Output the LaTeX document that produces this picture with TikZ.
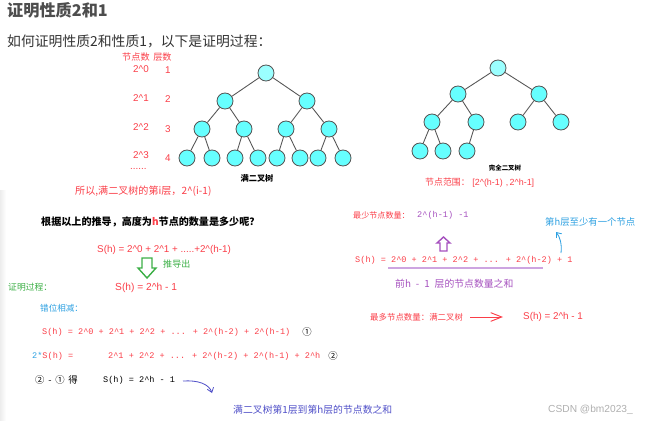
\documentclass[tikz,border=0pt]{standalone}
\usepackage{fontspec}
\setmainfont{Noto Sans CJK SC}
\newfontfamily\eqfont{Liberation Mono}
\newfontfamily\numfont{Liberation Sans}
\usetikzlibrary{arrows.meta,positioning}
\definecolor{PfRed}{RGB}{250,62,72}
\definecolor{PfPurple}{RGB}{165,80,190}
\definecolor{PfLilac}{RGB}{205,165,225}
\definecolor{PfGreen}{RGB}{60,175,70}
\definecolor{PfBlue}{RGB}{45,160,225}
\definecolor{PfNavy}{RGB}{80,80,200}
\definecolor{PfInk}{RGB}{77,77,77}
\definecolor{PfEdge}{RGB}{85,85,85}
\definecolor{PfCyan}{RGB}{102,255,255}
\definecolor{PfPaleCyan}{RGB}{155,255,255}
\definecolor{PfMark}{RGB}{175,175,175}
\newcommand{\pfsize}[1]{\fontsize{#1}{#1}\selectfont}
\newcommand{\pfcaret}{\textasciicircum}
\tikzset{
  pf/vertex/.style={
    circle,
    draw=PfEdge,
    line width=0.7pt,
    fill=PfCyan,
    minimum size=0.48cm,
    inner sep=0pt
  },
  pf/topvertex/.style={pf/vertex, fill=PfPaleCyan},
  pf/edge/.style={draw=PfEdge, line width=0.75pt},
  pf/text/.style={anchor=west, inner sep=0pt},
  pf/title/.style={pf/text, font=\pfsize{13.8pt}\bfseries, text=PfInk},
  pf/lead/.style={pf/text, font=\pfsize{11.8pt}, text=black!80},
  pf/red/.style={pf/text, font=\pfsize{7.8pt}, text=PfRed},
  pf/rednum/.style={pf/text, font=\numfont\pfsize{8.4pt}, text=PfRed},
  pf/redeq/.style={pf/text, font=\eqfont\pfsize{7.3pt}, text=PfRed},
  pf/caption/.style={font=\pfsize{7pt}\bfseries, text=black, inner sep=0pt},
  pf/question/.style={pf/text, font=\pfsize{8.6pt}\bfseries, text=black},
  pf/green/.style={pf/text, font=\pfsize{7.5pt}, text=PfGreen},
  pf/blue/.style={pf/text, font=\pfsize{8pt}, text=PfBlue},
  pf/purple/.style={pf/text, font=\pfsize{8.4pt}, text=PfPurple},
  pf/navy/.style={pf/text, font=\pfsize{8.4pt}, text=PfNavy},
  pf/circled/.style={font=\pfsize{8pt}, text=black, inner sep=0pt},
  pf/hollow/.style={line width=1.2pt, fill=white, line join=miter},
  pf/redarrow/.style={-{Straight Barb[length=3.3mm,width=2.6mm]}, draw=PfRed, line width=0.8pt},
  pf/bluearrow/.style={-{Straight Barb[length=1.3mm,width=2mm]}, draw=PfBlue, line width=0.7pt},
  pf/navyarrow/.style={-{Straight Barb[length=1.3mm,width=2mm]}, draw=PfNavy, line width=0.7pt}
}

\begin{document}
\begin{tikzpicture}[x=0.03cm,y=-0.03cm]
  \useasboundingbox (0,0) rectangle (645,421);
  \fill[left color=black!7, right color=white] (0,190) rectangle (6,421);

  % heading
  \node[pf/title] (title) at (7,10) {证明性质2和1};
  \node[pf/lead] (lead) at (7,41) {如何证明性质2和性质1，以下是证明过程：};

  % full binary tree
  \node[pf/red] (cols) at (122,57) {节点数\hspace{0.4em}层数};
  \node[pf/rednum] (n0) at (133,69) {2\pfcaret0};
  \node[pf/rednum] (l1) at (165,70) {1};
  \node[pf/rednum] (n1) at (133,98) {2\pfcaret1};
  \node[pf/rednum] (l2) at (165,99) {2};
  \node[pf/rednum] (n2) at (133,127) {2\pfcaret2};
  \node[pf/rednum] (l3) at (165,129) {3};
  \node[pf/rednum] (n3) at (133,155) {2\pfcaret3};
  \node[pf/rednum] (l4) at (165,158) {4};
  \node[pf/rednum] (more) at (130,169) {......};

  \node[pf/topvertex] (f1) at (266,73) {};
  \node[pf/vertex] (f2) at (225,101) {};
  \node[pf/vertex] (f3) at (307,101) {};
  \node[pf/vertex] (f4) at (202,129) {};
  \node[pf/vertex] (f5) at (244,129) {};
  \node[pf/vertex] (f6) at (286,129) {};
  \node[pf/vertex] (f7) at (329,129) {};
  \node[pf/vertex] (f8) at (187,158) {};
  \node[pf/vertex] (f9) at (212,158) {};
  \node[pf/vertex] (f10) at (235,158) {};
  \node[pf/vertex] (f11) at (258,158) {};
  \node[pf/vertex] (f12) at (277,158) {};
  \node[pf/vertex] (f13) at (300,158) {};
  \node[pf/vertex] (f14) at (318,158) {};
  \node[pf/vertex] (f15) at (343,158) {};
  \draw[pf/edge] (f1) -- (f2) (f1) -- (f3)
    (f2) -- (f4) (f2) -- (f5) (f3) -- (f6) (f3) -- (f7)
    (f4) -- (f8) (f4) -- (f9) (f5) -- (f10) (f5) -- (f11)
    (f6) -- (f12) (f6) -- (f13) (f7) -- (f14) (f7) -- (f15);
  \node[pf/caption] (fullcap) at (257,178) {满二叉树};
  \node[pf/red, font=\pfsize{8.6pt}] (layer) at (75,191) {所以,满二叉树的第i层，2\pfcaret(i-1)};

  % complete binary tree
  \node[pf/topvertex] (c1) at (498,68) {};
  \node[pf/vertex] (c2) at (458,94) {};
  \node[pf/vertex] (c3) at (539,94) {};
  \node[pf/vertex] (c4) at (432,122) {};
  \node[pf/vertex] (c5) at (476,122) {};
  \node[pf/vertex] (c6) at (518,122) {};
  \node[pf/vertex] (c7) at (561,122) {};
  \node[pf/vertex] (c8) at (420,151) {};
  \node[pf/vertex] (c9) at (443,151) {};
  \node[pf/vertex] (c10) at (467,151) {};
  \draw[pf/edge] (c1) -- (c2) (c1) -- (c3)
    (c2) -- (c4) (c2) -- (c5) (c3) -- (c6) (c3) -- (c7)
    (c4) -- (c8) (c4) -- (c9) (c5) -- (c10);
  \node[pf/caption, font=\pfsize{5.5pt}\bfseries] (compcap) at (505,168) {完全二叉树};
  \node[pf/red, font=\pfsize{7.6pt}] (range) at (425,183) {节点范围：\hspace{0.3em}{\numfont[2\pfcaret(h-1)\,\,,\,2\pfcaret h-1]}};

  % question and result
  \node[pf/question] (ask) at (41,222) {根据以上的推导，高度为\textcolor{PfRed}{h}节点的数量是多少呢？};
  \node[pf/rednum] (sum) at (97,250) {S(h) = 2\pfcaret0 + 2\pfcaret1 + .....+2\pfcaret(h-1)};
  \draw[pf/hollow, draw=PfGreen] (142,258) -- (152,258) -- (152,268) -- (156,268)
    -- (147,278) -- (138,268) -- (142,268) -- cycle;
  \node[pf/green, font=\pfsize{7.7pt}] (derive) at (163,264) {推导出};
  \node[pf/green] (proof) at (8,287) {证明过程：};
  \node[pf/rednum, font=\numfont\pfsize{8.7pt}] (result) at (115,288) {S(h) = 2\pfcaret h - 1};

  % least number of nodes
  \node[pf/red, font=\pfsize{6.9pt}] (least) at (353,215) {最少节点数量：};
  \node[pf/text, font=\eqfont\pfsize{7.3pt}, text=PfPurple] (leastval) at (417,215) {2\pfcaret(h-1) -1};
  \node[pf/blue] (atleast) at (545,222) {第h层至少有一个节点};
  \draw[pf/hollow, draw=PfPurple] (440,251) -- (447,251) -- (447,243) -- (450,243)
    -- (443.5,237) -- (437,243) -- (440,243) -- cycle;
  \node[pf/redeq] (lower) at (355,260) {S(h) = 2\pfcaret0 + 2\pfcaret1 + 2\pfcaret2 + ... + 2\pfcaret(h-2) + 1};
  \draw[draw=PfLilac, line width=1.3pt] (388,268) -- (543,268);
  \node[pf/purple] (prev) at (395,284) {前h\hspace{0.5em}-\hspace{0.5em}1\hspace{0.5em}层的节点数量之和};
  \coordinate (plusone) at (561,253);
  \coordinate (atleasttip) at (556,232);
  \draw[pf/bluearrow] (plusone) .. controls (562,244) and (560,237) .. (atleasttip);

  % most number of nodes
  \node[pf/red, font=\pfsize{7.2pt}] (most) at (370,317) {最多节点数量：满二叉树};
  \node[pf/rednum] (smax) at (523,317) {S(h) = 2\pfcaret h - 1};
  \draw[pf/redarrow, shorten <=2.1mm, shorten >=6mm] (most) -- (smax);

  % staggered subtraction
  \node[pf/blue, font=\pfsize{7.3pt}] (shift) at (40,308) {错位相减：};
  \node[pf/redeq] (eqone) at (42,332) {S(h) = 2\pfcaret0 + 2\pfcaret1 + 2\pfcaret2 + ... + 2\pfcaret(h-2) + 2\pfcaret(h-1)};
  \node[pf/circled] (markone) at (307,332) {①};
  \node[pf/redeq] (twice) at (32,356) {\textcolor{PfBlue}{2*}S(h) =};
  \node[pf/redeq] (eqtwo) at (108,356) {2\pfcaret1 + 2\pfcaret2 + ... + 2\pfcaret(h-2) + 2\pfcaret(h-1) + 2\pfcaret h};
  \node[pf/circled] (marktwo) at (333,356) {②};
  \node[pf/text, font=\pfsize{8pt}] (minus) at (35,380) {②\hspace{0.4em}-\hspace{0.4em}①\hspace{0.4em}得};
  \node[pf/text, font=\eqfont\pfsize{7.3pt}] (final) at (103,380) {S(h) = 2\pfcaret h - 1};
  \coordinate (finaltail) at (183,381);
  \coordinate (finaltip) at (212,393);
  \draw[pf/navyarrow] (finaltail) .. controls (198,380) and (209,384) .. (finaltip);
  \node[pf/navy] (total) at (233,410) {满二叉树第1层到第h层的节点数之和};

  \node[pf/text, font=\numfont\pfsize{8.7pt}, text=PfMark] (mark) at (548,410) {CSDN @bm2023\_};
\end{tikzpicture}
\end{document}
